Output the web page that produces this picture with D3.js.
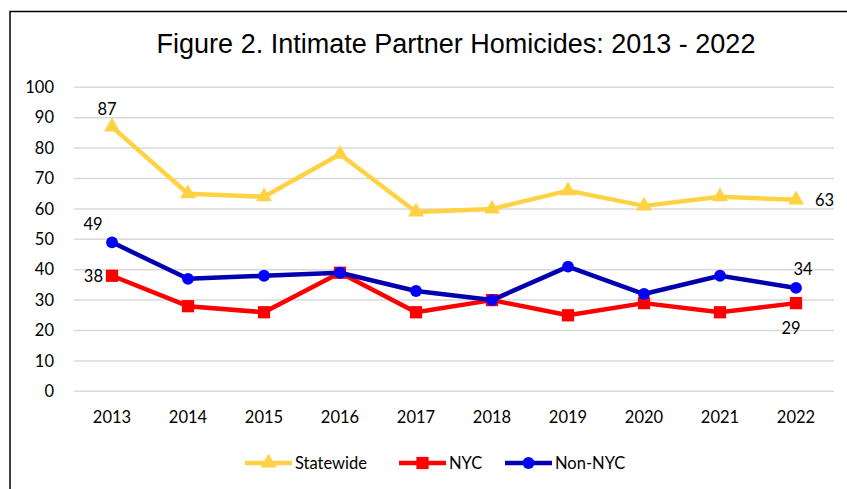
<!DOCTYPE html>
<html><head><meta charset="utf-8">
<script src="https://cdn.jsdelivr.net/npm/d3@7"></script>
<style>body{margin:0;background:#fff}svg{display:block}</style>
</head><body>
<script>
const years = ["2013","2014","2015","2016","2017","2018","2019","2020","2021","2022"];
const statewide = [87,65,64,78,59,60,66,61,64,63];
const nyc = [38,28,26,39,26,30,25,29,26,29];
const nonNyc = [49,37,38,39,33,30,41,32,38,34];
const yTicks = [0,10,20,30,40,50,60,70,80,90,100];
const title = "Figure 2. Intimate Partner Homicides: 2013 - 2022";

const W=847,H=489;
const svg=d3.select("body").append("svg").attr("width",W).attr("height",H);
svg.append("rect").attr("x",10).attr("y",11.5).attr("width",W+20).attr("height",H+20)
  .attr("fill","#fff").attr("stroke","#000").attr("stroke-width",1.5);

const x=d3.scaleBand().domain(years).range([74,834]);
const cx=d=>x(d)+x.bandwidth()/2;
const y=d3.scaleLinear().domain([0,100]).range([391.3,87.3]);
const font="Lato, 'Open Sans', sans-serif";

svg.append("text").attr("x",456).attr("y",53).attr("text-anchor","middle")
  .attr("font-family","'Liberation Sans', Arial, sans-serif").attr("font-size",27).attr("fill","#000").text(title);

// grid
svg.append("g").selectAll("line").data(yTicks).join("line")
  .attr("x1",74).attr("x2",834).attr("y1",d=>y(d)).attr("y2",d=>y(d))
  .attr("stroke","#d9d9d9").attr("stroke-width",1.5);

const yAxis=svg.append("g").attr("transform","translate(74,0)")
  .call(d3.axisLeft(y).tickValues(yTicks).tickSize(0).tickPadding(20));
yAxis.select(".domain").remove();
yAxis.selectAll("text").attr("font-family",font).attr("font-size",16.5).attr("fill","#000");

const xAxis=svg.append("g").attr("transform","translate(0,391.3)")
  .call(d3.axisBottom(x).tickSize(0).tickPadding(20));
xAxis.select(".domain").remove();
xAxis.selectAll("text").attr("font-family",font).attr("font-size",16.5).attr("fill","#000");

const series=[
  {name:"Statewide",vals:statewide,line:"#ffd243",mark:"#ffd243",sym:d3.symbolTriangle,size:110},
  {name:"NYC",vals:nyc,line:"#ff0000",mark:"#ff0000",sym:d3.symbolSquare,size:150},
  {name:"Non-NYC",vals:nonNyc,line:"#0000b0",mark:"#0000ff",sym:d3.symbolCircle,size:110}
];
const line=d3.line().x((d,i)=>cx(years[i])).y(d=>y(d));
series.forEach(s=>{
  svg.append("path").datum(s.vals).attr("d",line).attr("fill","none")
    .attr("stroke",s.line).attr("stroke-width",4.5).attr("stroke-linejoin","round");
  svg.append("g").selectAll("path").data(s.vals).join("path")
    .attr("transform",(d,i)=>`translate(${cx(years[i])},${y(d)})`)
    .attr("d",d3.symbol(s.sym,s.size)()).attr("fill",s.mark);
});

// data labels
const lab=(t,xx,yy,anchor)=>svg.append("text").attr("x",xx).attr("y",yy).attr("text-anchor",anchor||"middle")
  .attr("dominant-baseline","central").attr("font-family",font).attr("font-size",16.5).attr("fill","#000").text(t);
lab(statewide[0],cx(years[0])-5,y(statewide[0])-18);
lab(nonNyc[0],cx(years[0])-19,y(nonNyc[0])-18);
lab(nyc[0],cx(years[0])-9,y(nyc[0]),"end");
lab(statewide[9],cx(years[9])+19,y(statewide[9]),"start");
lab(nonNyc[9],cx(years[9])+7,y(nonNyc[9])-19);
lab(nyc[9],cx(years[9])-5,y(nyc[9])+25);

// legend
const leg=[{x:245,tx:295},{x:399,tx:449},{x:505,tx:555}];
series.forEach((s,i)=>{
  const g=svg.append("g");
  g.append("line").attr("x1",leg[i].x).attr("x2",leg[i].x+47).attr("y1",463).attr("y2",463)
    .attr("stroke",s.line).attr("stroke-width",4.5);
  g.append("path").attr("transform",`translate(${leg[i].x+23.5},463)`).attr("d",d3.symbol(s.sym,s.size)()).attr("fill",s.mark);
  g.append("text").attr("x",leg[i].tx).attr("y",463).attr("dominant-baseline","central")
    .attr("font-family",font).attr("font-size",16.5).attr("fill","#000").text(s.name);
});
</script>
</body></html>
